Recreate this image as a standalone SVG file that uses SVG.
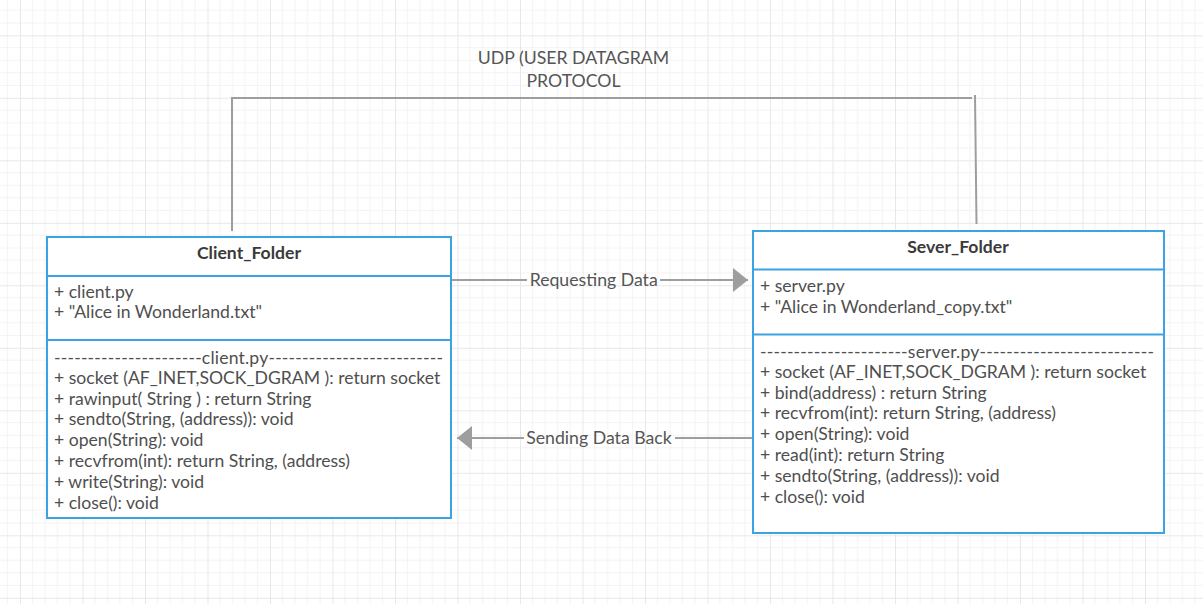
<svg xmlns="http://www.w3.org/2000/svg" width="1203" height="604" viewBox="0 0 1203 604">
<defs>
<pattern id="grid" patternUnits="userSpaceOnUse" x="20" y="35.3" width="62.5" height="62.5">
<path d="M12.5 0V62.5M25 0V62.5M37.5 0V62.5M50 0V62.5M0 12.5H62.5M0 25H62.5M0 37.5H62.5M0 50H62.5" stroke="#f3f3f3" stroke-width="1" fill="none"/>
<path d="M0.5 0V62.5M0 0.5H62.5" stroke="#e8e8e8" stroke-width="1" fill="none"/>
</pattern>
<marker id="arrow" markerUnits="userSpaceOnUse" markerWidth="16" markerHeight="26" refX="15" refY="12" orient="auto">
<path d="M0 0L15 12L0 24Z" fill="#9e9e9e"/>
</marker>
</defs>
<style>
.box{fill:#ffffff;stroke:#3ba3e4;stroke-width:2}
.div{stroke:#3ba3e4;stroke-width:2}
.title{font-family:Lato,"Liberation Sans",sans-serif;font-weight:bold;font-size:17.6px;fill:#3a3a3a;text-anchor:middle}
.t{font-family:Lato,"Liberation Sans",sans-serif;font-size:17.6px;fill:#4f4f4f}
.lbl{font-family:Lato,"Liberation Sans",sans-serif;font-size:17.7px;fill:#555555;text-anchor:middle}
.conn{stroke:#9e9e9e;stroke-width:2;fill:none}
</style>
<rect width="1203" height="604" fill="#ffffff"/>
<rect width="1203" height="604" fill="url(#grid)"/>

<g id="connectors">
<path class="conn" d="M232 231V98H972"/>
<path class="conn" d="M975 95L976.5 224"/>
<text class="lbl" x="573.5" y="63.5">UDP (USER DATAGRAM</text>
<text class="lbl" x="573.5" y="86.5">PROTOCOL</text>
<path class="conn" d="M451 280H527"/>
<path class="conn" d="M660 280H748" marker-end="url(#arrow)"/>
<text class="lbl" x="593.7" y="286">Requesting Data</text>
<path class="conn" d="M753 438H675"/>
<path class="conn" d="M524 438H457" marker-end="url(#arrow)"/>
<text class="lbl" x="599" y="444">Sending Data Back</text>
</g>

<g id="client_folder">
<rect class="box" x="47" y="237" width="404" height="281"/>
<line class="div" x1="47" y1="276" x2="451" y2="276"/>
<line class="div" x1="47" y1="340" x2="451" y2="340"/>
<text class="title" x="249" y="258.5">Client_Folder</text>
<text class="t" x="54" y="298">+ client.py</text>
<text class="t" x="54" y="318">+ "Alice in Wonderland.txt"</text>
<text class="t" x="54" y="363.5" textLength="389" lengthAdjust="spacing">----------------------client.py--------------------------</text>
<text class="t" x="54" y="384">+ socket (AF_INET,SOCK_DGRAM ): return socket</text>
<text class="t" x="54" y="404.5">+ rawinput( String ) : return String</text>
<text class="t" x="54" y="425">+ sendto(String, (address)): void</text>
<text class="t" x="54" y="446">+ open(String): void</text>
<text class="t" x="54" y="467">+ recvfrom(int): return String, (address)</text>
<text class="t" x="54" y="488">+ write(String): void</text>
<text class="t" x="54" y="509">+ close(): void</text>
</g>

<g id="sever_folder">
<rect class="box" x="753" y="231" width="411" height="302"/>
<line class="div" x1="753" y1="269.5" x2="1164" y2="269.5"/>
<line class="div" x1="753" y1="334.5" x2="1164" y2="334.5"/>
<text class="title" x="958" y="252.5">Sever_Folder</text>
<text class="t" x="760" y="292">+ server.py</text>
<text class="t" x="760" y="312.5">+ "Alice in Wonderland_copy.txt"</text>
<text class="t" x="760" y="357.5" textLength="394" lengthAdjust="spacing">----------------------server.py--------------------------</text>
<text class="t" x="760" y="378">+ socket (AF_INET,SOCK_DGRAM ): return socket</text>
<text class="t" x="760" y="398.5">+ bind(address) : return String</text>
<text class="t" x="760" y="419">+ recvfrom(int): return String, (address)</text>
<text class="t" x="760" y="440">+ open(String): void</text>
<text class="t" x="760" y="461">+ read(int): return String</text>
<text class="t" x="760" y="481.5">+ sendto(String, (address)): void</text>
<text class="t" x="760" y="502.5">+ close(): void</text>
</g>
</svg>
